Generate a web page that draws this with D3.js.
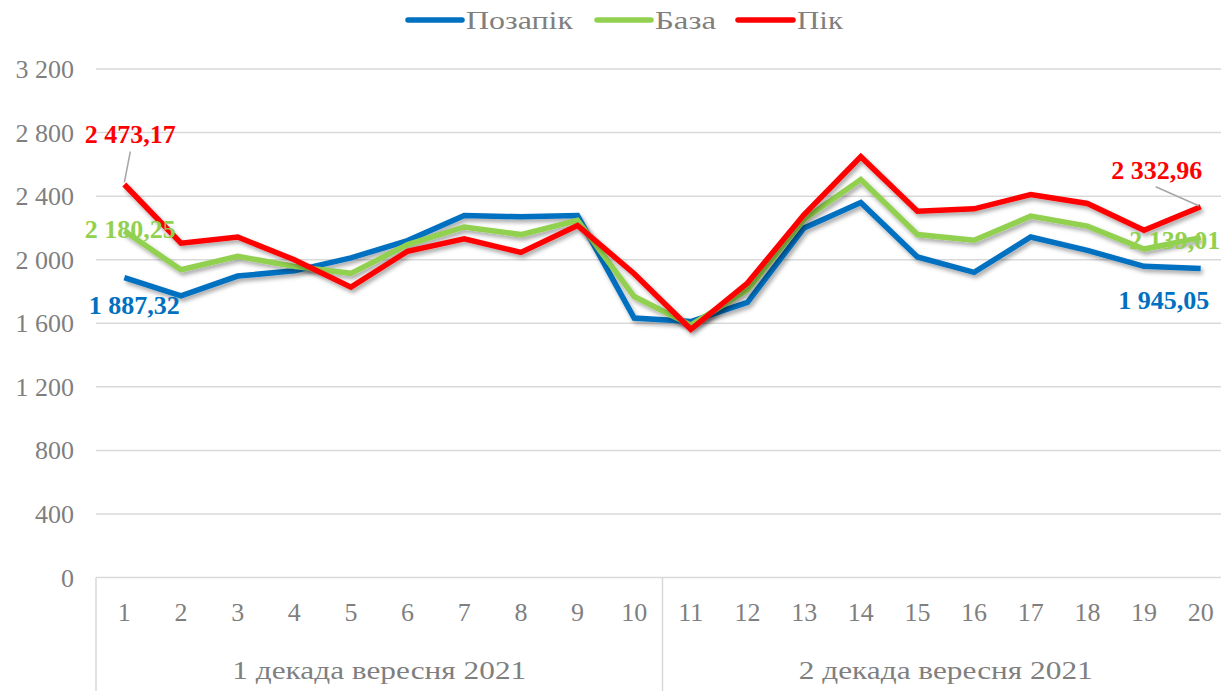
<!DOCTYPE html>
<html><head><meta charset="utf-8">
<script src="https://cdn.jsdelivr.net/npm/d3@7"></script>
<style>
body{margin:0;background:#fff;}
svg{display:block;font-family:"Liberation Serif","Times New Roman",serif;}
</style></head>
<body><svg id="c" width="1221" height="691"></svg>
<script>
const days = ["1","2","3","4","5","6","7","8","9","10","11","12","13","14","15","16","17","18","19","20"];
const groups = ["1 декада вересня 2021","2 декада вересня 2021"];
const seriesNames = ["Позапік","База","Пік"];
const pozapik = [1887.32,1773,1897,1930,2011,2120,2278,2270,2278,1633,1611,1731,2200,2360,2017,1920,2143,2059,1958,1945.05];
const baza    = [2180.25,1937,2021,1958,1914,2095,2206,2158,2248,1768,1588,1810,2255,2505,2158,2122,2274,2211,2067,2139.01];
const pik     = [2473.17,2104,2143,2000,1827,2053,2131,2046,2215,1912,1562,1853,2284,2648,2305,2320,2410,2354,2185,2332.96];
const yTicks = [0,400,800,1200,1600,2000,2400,2800,3200];
const colors = ["#0070C0","#92D050","#FF0000"];

const svg = d3.select("#c");
const x = d3.scaleBand().domain(days).range([96,1229]);
const y = d3.scaleLinear().domain([0,3200]).range([577.5,69]);
const cx = d => x(d) + x.bandwidth()/2;
const grey = "#7f7f7f";
const fmt = v => { const s = d3.format(",")(v); return s.replace(/,/g," "); };

// shadow filter
const defs = svg.append("defs");
const f = defs.append("filter").attr("id","sh").attr("x","-10%").attr("y","-10%").attr("width","120%").attr("height","130%");
f.append("feDropShadow").attr("dx",2).attr("dy",3).attr("stdDeviation",2).attr("flood-color","#000").attr("flood-opacity",0.35);

// gridlines
svg.append("g").selectAll("line").data(yTicks).join("line")
  .attr("x1",96).attr("x2",1221).attr("y1",d=>y(d)).attr("y2",d=>y(d))
  .attr("stroke","#d9d9d9").attr("stroke-width",1.5);

// y labels
svg.append("g").selectAll("text").data(yTicks).join("text")
  .attr("x",74).attr("y",d=>y(d)).attr("dy","0.35em").attr("text-anchor","end")
  .attr("font-size",26).attr("fill",grey).text(d=>fmt(d));

// x separators
const seps = [days[0], days[10]];
svg.append("g").selectAll("line").data(seps).join("line")
  .attr("x1",d=>x(d)).attr("x2",d=>x(d)).attr("y1",577.5).attr("y2",691)
  .attr("stroke","#d9d9d9").attr("stroke-width",1.5);

// category labels
svg.append("g").selectAll("text").data(days).join("text")
  .attr("x",d=>cx(d)).attr("y",612).attr("dy","0.35em").attr("text-anchor","middle")
  .attr("font-size",26).attr("fill",grey).text(d=>d);

// group labels
svg.append("g").selectAll("text").data(groups).join("text")
  .attr("x",(d,i)=>(x(days[i*10]) + x(days[i*10+9]) + x.bandwidth())/2).attr("y",670).attr("dy","0.35em")
  .attr("text-anchor","middle").attr("font-size",26).attr("fill",grey)
  .attr("textLength",294).attr("lengthAdjust","spacingAndGlyphs").text(d=>d);

// lines
const data = [pozapik, baza, pik];
const line = d3.line().x((d,i)=>cx(days[i])).y(d=>y(d));
data.forEach((s,k)=>{
  svg.append("path").datum(s).attr("d",line).attr("fill","none")
    .attr("stroke",colors[k]).attr("stroke-width",5.5).attr("stroke-linejoin","miter")
    .attr("filter","url(#sh)");
});

// leader lines
const first = days[0], last = days[19];
svg.append("line").attr("x1",cx(first)+6).attr("y1",y(pik[0])-33).attr("x2",cx(first)).attr("y2",y(pik[0])-2)
  .attr("stroke","#a6a6a6").attr("stroke-width",1.5);
svg.append("line").attr("x1",cx(last)-45).attr("y1",y(pik[19])-20).attr("x2",cx(last)-2).attr("y2",y(pik[19])-1)
  .attr("stroke","#a6a6a6").attr("stroke-width",1.5);

// data labels
const lbl = (txt, xx, yy, col) => svg.append("text").attr("x",xx).attr("y",yy).attr("dy","0.35em")
  .attr("text-anchor","middle").attr("font-size",26).attr("font-weight","bold").attr("fill",col).text(txt);
const dfmt = v => fmt(Math.floor(v)) + "," + d3.format("02")(Math.round((v-Math.floor(v))*100));
lbl(dfmt(pik[0]), cx(first)+6, y(pik[0])-51, colors[2]);
lbl(dfmt(baza[0]), cx(first)+6, y(baza[0])-2, colors[1]);
lbl(dfmt(pozapik[0]), cx(first)+10, y(pozapik[0])+27, colors[0]);
lbl(dfmt(pik[19]), cx(last)-44, y(pik[19])-37, colors[2]);
lbl(dfmt(baza[19]), cx(last)-26, y(baza[19])+2, colors[1]);
lbl(dfmt(pozapik[19]), cx(last)-37, y(pozapik[19])+31, colors[0]);

// legend
const leg = [{x1:408,x2:462,t:466,w:107},{x1:597,x2:651,t:655,w:61},{x1:738,x2:793,t:797,w:46}];
leg.forEach((l,k)=>{
  svg.append("line").attr("x1",l.x1).attr("x2",l.x2).attr("y1",20).attr("y2",20)
    .attr("stroke",colors[k]).attr("stroke-width",5.5).attr("stroke-linecap","round");
  svg.append("text").attr("x",l.t).attr("y",20).attr("dy","0.35em").attr("font-size",26)
    .attr("fill",grey).attr("textLength",l.w).attr("lengthAdjust","spacingAndGlyphs").text(seriesNames[k]);
});
</script></body></html>
